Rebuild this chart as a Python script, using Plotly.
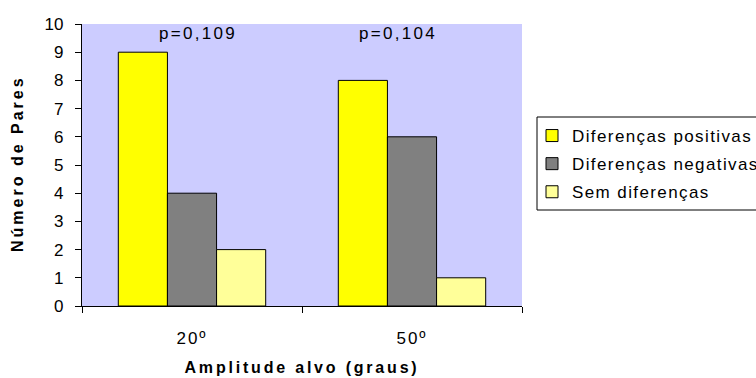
import plotly.graph_objects as go

categories = ["20º", "50º"]
series_names = ["Diferenças positivas", "Diferenças negativas", "Sem diferenças"]
positivas = [9, 8]
negativas = [4, 6]
sem_dif = [2, 1]
p_labels = ["p=0,109", "p=0,104"]
y_ticks = list(range(0, 11))
colors = ["#FFFF00", "#808080", "#FFFF99"]
x_title = "Amplitude alvo (graus)"
y_title = "Número de Pares"


def sp(text, px):
    return f'<span style="letter-spacing:{px}px">{text}</span>'


fig = go.Figure()
for i, (name, vals) in enumerate(zip(series_names, [positivas, negativas, sem_dif])):
    fig.add_trace(go.Bar(
        x=categories, y=vals, name=sp(name, 1.4), legendgroup=str(i),
        marker=dict(color=colors[i], line=dict(color="black", width=1)),
    ))

font = "Liberation Sans, Arial, sans-serif"
shifts = [6, -14]
for c, lab, sh in zip(categories, p_labels, shifts):
    fig.add_annotation(x=c, y=9.68, text=sp(lab, 2.3), showarrow=False, xshift=sh,
                       font=dict(family=font, size=17, color="black"))

# y-axis title as rotated text
fig.add_annotation(xref="paper", yref="paper", x=(17 - 82) / 440, y=(306 - 164) / 282,
                   text="<b>" + sp(y_title, 3) + "</b>", textangle=-90, showarrow=False,
                   xanchor="center", yanchor="middle",
                   font=dict(family=font, size=16, color="black"))

# legend frame (extends beyond the right edge like the reference)
fig.add_shape(type="rect", xref="paper", yref="paper",
              x0=(537 - 82) / 440, x1=1.7, y0=(306 - 210) / 282, y1=(306 - 117) / 282,
              line=dict(color="black", width=1), fillcolor="rgba(0,0,0,0)")

fig.update_layout(
    width=756, height=378,
    margin=dict(l=82, r=234, t=24, b=72, autoexpand=False),
    paper_bgcolor="white", plot_bgcolor="#CCCCFF",
    barmode="group", bargap=0.33, bargroupgap=0,
    font=dict(family=font, size=17, color="black"),
    showlegend=True,
    legend=dict(x=(532 - 82) / 440, y=(306 - 118) / 282, xanchor="left", yanchor="top",
                borderwidth=0, bgcolor="rgba(0,0,0,0)",
                traceorder="grouped", tracegroupgap=3,
                font=dict(family=font, size=17)),
    xaxis=dict(showline=True, linecolor="black", linewidth=1,
               ticks="outside", tickson="boundaries", ticklen=6, tickcolor="black",
               tickvals=categories, ticktext=[sp(c, 2) for c in categories],
               tickfont=dict(size=17), ticklabelstandoff=17,
               title=dict(text="<b>" + sp(x_title, 2.8) + "</b>", standoff=14,
                          font=dict(size=16)),
               showgrid=False),
    yaxis=dict(range=[0, 10], tickvals=y_ticks,
               ticktext=[f"{v}\u00a0\u2009" for v in y_ticks],
               showline=True, linecolor="black", linewidth=1,
               ticks="outside", ticklen=6, tickcolor="black", showgrid=False,
               zeroline=False, tickfont=dict(size=17)),
)

fig.write_html("out.html")
